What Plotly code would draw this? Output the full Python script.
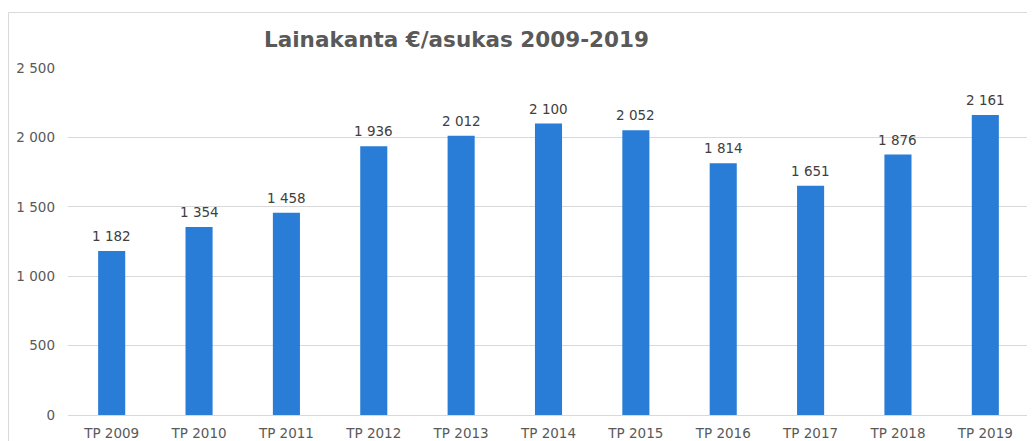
import plotly.graph_objects as go

categories = ["TP 2009", "TP 2010", "TP 2011", "TP 2012", "TP 2013", "TP 2014",
              "TP 2015", "TP 2016", "TP 2017", "TP 2018", "TP 2019"]
values = [1182, 1354, 1458, 1936, 2012, 2100, 2052, 1814, 1651, 1876, 2161]
tick_vals = [0, 500, 1000, 1500, 2000, 2500]
tick_text = ["0", "500", "1 000", "1 500", "2 000", "2 500"]

def fmt(v):
    return f"{v:,}".replace(",", " ")

FONT = "DejaVu Sans, Verdana, sans-serif"
GRAY = "#595959"

fig = go.Figure(go.Bar(
    x=categories, y=values,
    marker=dict(color="#2a7dd6", line=dict(width=0)),
    width=0.31,
))

# page body has an 8px offset
OFF = 8
W, H = 1035 - OFF, 441 - OFF
L, R, T, B = 68 - OFF, 6, 68 - OFF, 26
pw, ph = W - L - R, H - T - B

def px2x(p):
    return (p - OFF - L) / pw

def py2y(p):
    return 1 - (p - OFF - T) / ph

label_anns = [dict(x=c, y=v, xref="x", yref="y", text=fmt(v), showarrow=False,
                   xanchor="center", yanchor="bottom", yshift=5,
                   font=dict(family=FONT, size=13.5, color="#404040"))
              for c, v in zip(categories, values)]

fig.update_layout(
    width=W, height=H,
    margin=dict(l=L, r=R, t=T, b=B, autoexpand=False),
    paper_bgcolor="white", plot_bgcolor="white",
    showlegend=False,
    font=dict(family=FONT, size=13.5, color=GRAY),
    xaxis=dict(showgrid=False, showline=True, linecolor="#d9d9d9", linewidth=1,
               ticks="", ticklabelstandoff=6,
               tickfont=dict(family=FONT, size=13.5, color=GRAY), fixedrange=True),
    yaxis=dict(range=[0, 2500], tickvals=tick_vals, ticktext=tick_text,
               showgrid=True, gridcolor="#d9d9d9", gridwidth=1,
               zeroline=False, showline=False, ticks="", ticklabelstandoff=12,
               tickfont=dict(family=FONT, size=13.5, color=GRAY)),
    shapes=[dict(type="rect", xref="paper", yref="paper",
                 x0=px2x(8.5), x1=px2x(1045), y0=py2y(470), y1=py2y(12.5),
                 line=dict(color="#d9d9d9", width=1), fillcolor="rgba(0,0,0,0)",
                 layer="below")],
    annotations=label_anns + [dict(text="<b>Lainakanta €/asukas 2009-2019</b>", xref="paper", yref="paper",
                      x=px2x(456), y=py2y(39), xanchor="center", yanchor="middle",
                      showarrow=False, font=dict(family=FONT, size=21.5, color=GRAY))],
)

fig.write_html("out.html")
